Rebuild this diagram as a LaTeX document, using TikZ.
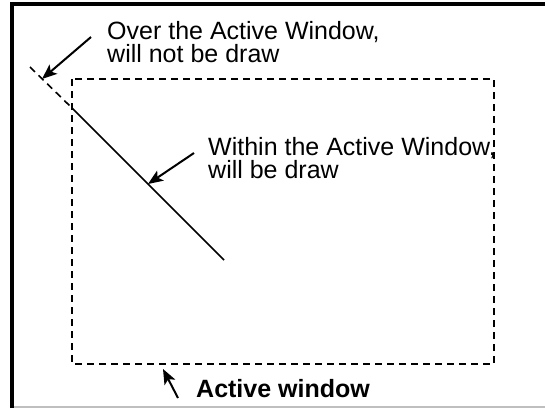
\documentclass[tikz,border=0pt]{standalone}
\usepackage{fontspec}
\setmainfont{Liberation Sans}
\usetikzlibrary{arrows.meta,positioning,calc}

\tikzset{
  label text/.style={font=\fontsize{25}{23.5}\selectfont, inner sep=0pt, align=left, anchor=base west},
  window line/.style={line width=1.6pt, dash pattern=on 7pt off 5pt},
  pointer/.style={line width=2pt, -{Stealth[length=15pt,width=12pt,inset=3.5pt]}}
}

\begin{document}
\begin{tikzpicture}[x=1pt,y=-1pt]
      \useasboundingbox (0,0) rectangle (545,408);

      % Outer frame
      \draw[line width=4pt] (12,408) -- (12,4) -- (545,4);
      \draw[line width=1.5pt, black!25] (14,407) -- (545,407);

      % Active window
      \draw[window line] (72,79) rectangle (494,364);

      % Clipped line
      \coordinate (lineStart) at (30,67);
      \coordinate (clipPt) at (72,108);
      \coordinate (lineEnd) at (224,260);
      \draw[window line] (lineStart) -- (clipPt);
      \draw[line width=1.6pt] (clipPt) -- (lineEnd);

      % Labels (anchored at the baseline of the last line)
      \node[label text] (overText) at (107,62.5) {Over the Active Window,\\will not be draw};
      \node[label text] (withinText) at (208,178.5) {Within the Active Window,\\will be draw};
      \node[label text, font=\fontsize{25}{23.5}\selectfont\bfseries] (windowText) at (196,397) {Active window};

      % Pointers
      \coordinate (overTip) at (42,79);
      \coordinate (withinTip) at (148,184);
      \coordinate (windowTip) at (163,369);
      \draw[pointer] (91,37) -- (overTip);
      \draw[pointer] (194,153) -- (withinTip);
      \draw[pointer] (178,398) -- (windowTip);
    \end{tikzpicture}
\end{document}
